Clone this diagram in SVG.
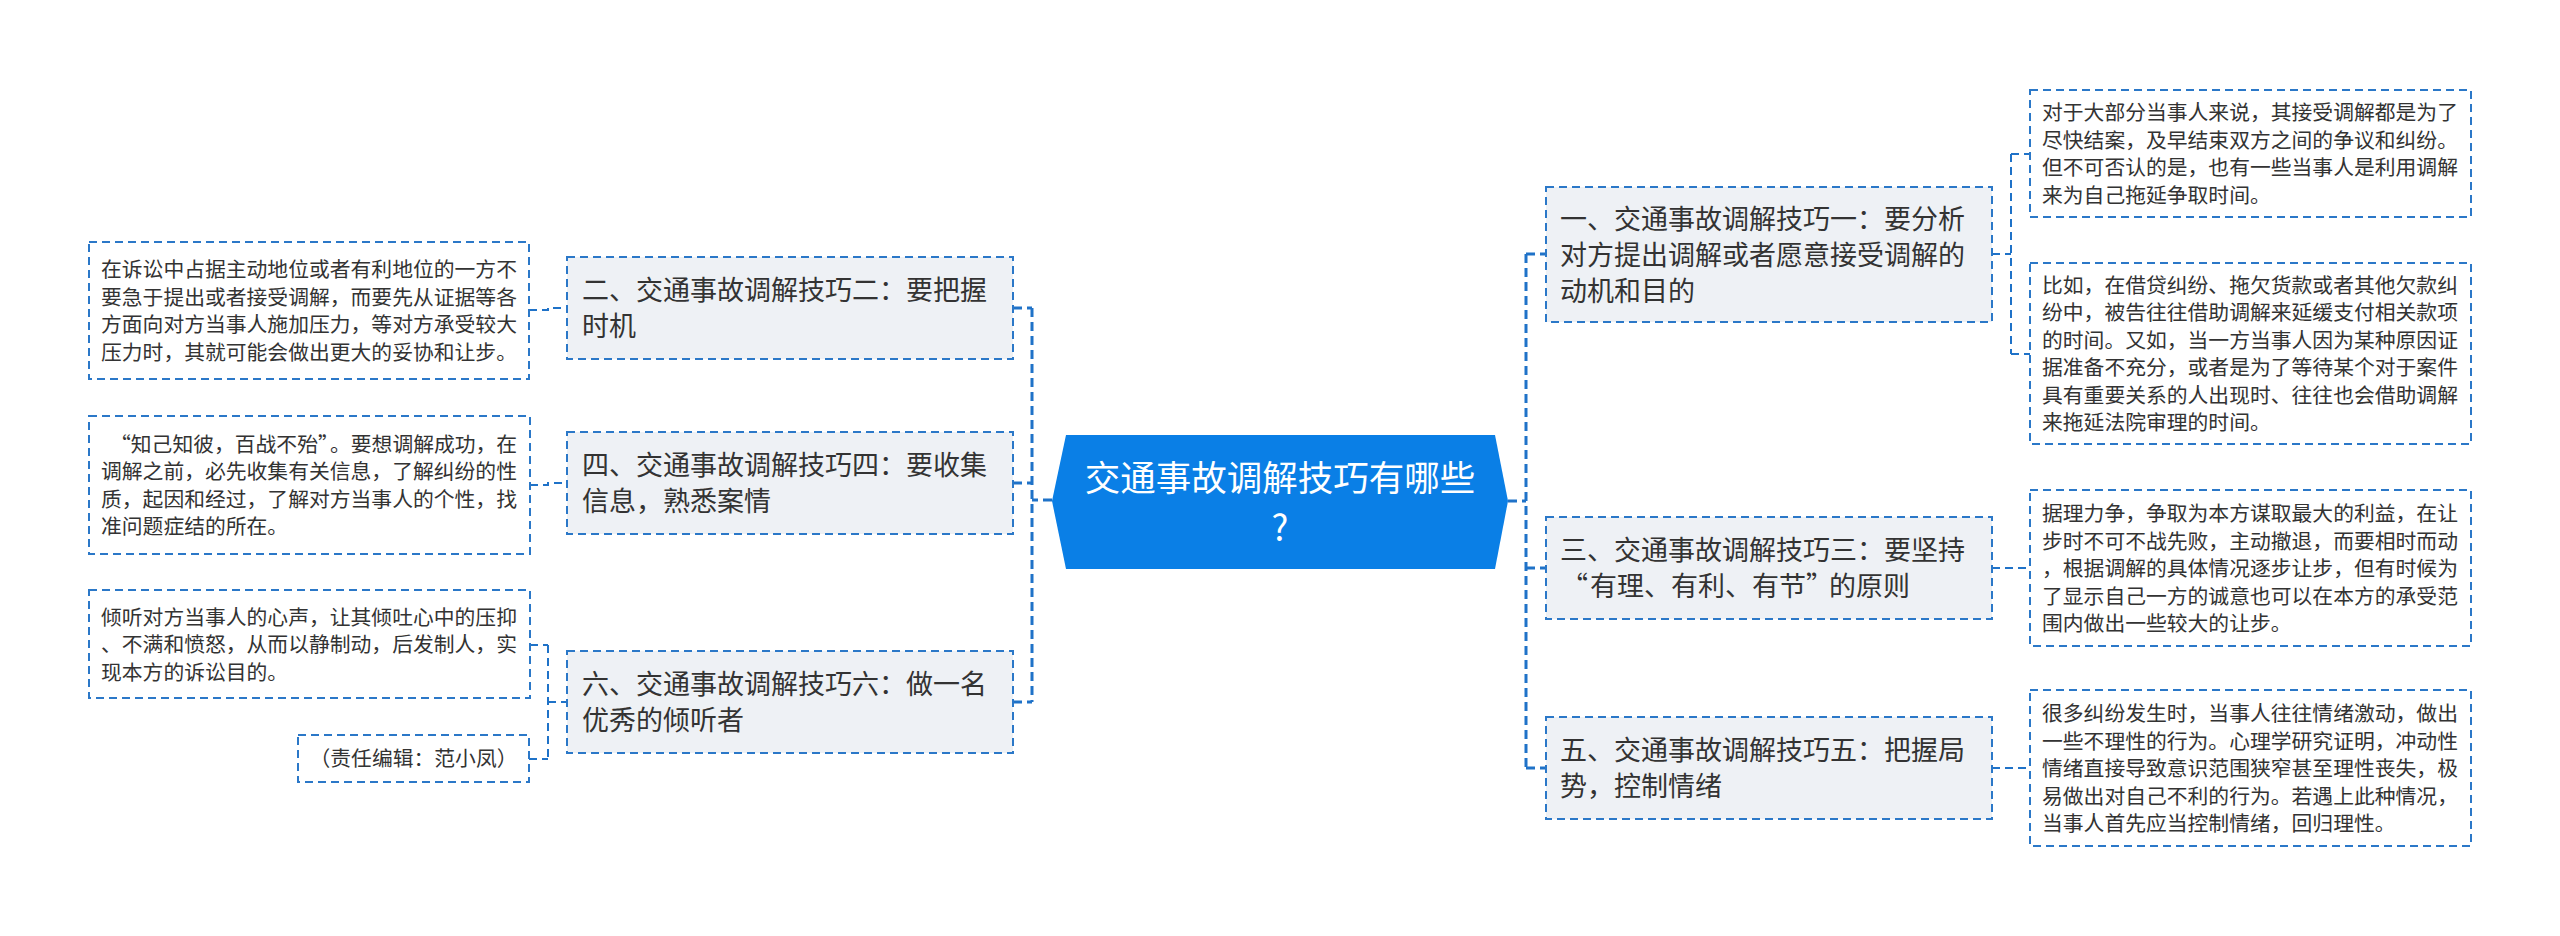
<svg xmlns="http://www.w3.org/2000/svg" width="2560" height="936" viewBox="0 0 2560 936">
<style>
text{font-family:"Noto Sans CJK SC","Noto Sans",sans-serif;fill:#333;}
.main rect{fill:#eef1f5;stroke:#2b78c8;stroke-width:2;stroke-dasharray:8 5;}
.leaf rect{fill:#fff;stroke:#2b78c8;stroke-width:2;stroke-dasharray:8 5;}
.main text{font-size:27px;}
.leaf text{font-size:20.8px;}
.conn path{fill:none;stroke:#1f72c8;stroke-width:2;stroke-dasharray:8 5;}
.conn path.trunk{stroke-width:3;stroke-dasharray:9 5;}
.center text{font-size:35.5px;fill:#fff;text-anchor:middle;}
</style>
<rect width="2560" height="936" fill="#fff"/>
<g id="connectors" class="conn">
<path class="trunk" d="M1052 500H1032M1032 308V702M1013 308H1032M1013 483H1032M1013 702H1032"/>
<path class="trunk" d="M1508 501H1526M1526 254V768M1526 254H1546M1526 568H1546M1526 768H1546"/>
<path d="M529 310H548V308H567"/>
<path d="M530 485H548V483H567"/>
<path d="M548 645V759M530 645H548M529 759H548M548 702H567"/>
<path d="M1992 254H2011M2011 154V354M2011 154H2030M2011 354H2030"/>
<path d="M1992 568H2030"/>
<path d="M1992 768H2030"/>
</g>
<g id="center" class="center">
<polygon points="1066,435 1495,435 1508,501 1495,569 1066,569 1052,501" fill="#0a7fe6"/>
<text x="1280" y="491">交通事故调解技巧有哪些</text>
<text x="1280" y="541">?</text>
</g>
<g id="n1" class="main">
<rect x="1546" y="187" width="446" height="135"/>
<text x="1560" y="229">一、交通事故调解技巧一：要分析</text>
<text x="1560" y="265">对方提出调解或者愿意接受调解的</text>
<text x="1560" y="301">动机和目的</text>
</g>
<g id="n2" class="main">
<rect x="567" y="257" width="446" height="102"/>
<text x="582" y="300">二、交通事故调解技巧二：要把握</text>
<text x="582" y="336">时机</text>
</g>
<g id="n3" class="main">
<rect x="1546" y="517" width="446" height="102"/>
<text x="1560" y="560">三、交通事故调解技巧三：要坚持</text>
<text y="596"><tspan x="1561">“</tspan><tspan x="1590">有理、有利、有节</tspan><tspan x="1806">”</tspan><tspan x="1829">的原则</tspan></text>
</g>
<g id="n4" class="main">
<rect x="567" y="432" width="446" height="102"/>
<text x="582" y="475">四、交通事故调解技巧四：要收集</text>
<text x="582" y="511">信息，熟悉案情</text>
</g>
<g id="n5" class="main">
<rect x="1546" y="717" width="446" height="102"/>
<text x="1560" y="760">五、交通事故调解技巧五：把握局</text>
<text x="1560" y="796">势，控制情绪</text>
</g>
<g id="n6" class="main">
<rect x="567" y="651" width="446" height="102"/>
<text x="582" y="694">六、交通事故调解技巧六：做一名</text>
<text x="582" y="730">优秀的倾听者</text>
</g>
<g id="leafA" class="leaf">
<rect x="89" y="242" width="440" height="137"/>
<text x="101" y="277">在诉讼中占据主动地位或者有利地位的一方不</text>
<text x="101" y="305">要急于提出或者接受调解，而要先从证据等各</text>
<text x="101" y="332">方面向对方当事人施加压力，等对方承受较大</text>
<text x="101" y="360">压力时，其就可能会做出更大的妥协和让步。</text>
</g>
<g id="leafB" class="leaf">
<rect x="89" y="416" width="441" height="138"/>
<text y="452"><tspan x="110">“知己知彼，百战不殆”</tspan><tspan x="330">。要想调解成功，在</tspan></text>
<text x="101" y="479">调解之前，必先收集有关信息，了解纠纷的性</text>
<text x="101" y="507">质，起因和经过，了解对方当事人的个性，找</text>
<text x="101" y="534">准问题症结的所在。</text>
</g>
<g id="leafC" class="leaf">
<rect x="89" y="590" width="441" height="108"/>
<text x="101" y="625">倾听对方当事人的心声，让其倾吐心中的压抑</text>
<text x="101" y="652">、不满和愤怒，从而以静制动，后发制人，实</text>
<text x="101" y="680">现本方的诉讼目的。</text>
</g>
<g id="leafD" class="leaf">
<rect x="298" y="735" width="231" height="47"/>
<text x="413.5" y="766" text-anchor="middle">（责任编辑：范小凤）</text>
</g>
<g id="leafE" class="leaf">
<rect x="2030" y="90" width="441" height="127"/>
<text x="2042" y="120">对于大部分当事人来说，其接受调解都是为了</text>
<text x="2042" y="148">尽快结案，及早结束双方之间的争议和纠纷。</text>
<text x="2042" y="175">但不可否认的是，也有一些当事人是利用调解</text>
<text x="2042" y="203">来为自己拖延争取时间。</text>
</g>
<g id="leafF" class="leaf">
<rect x="2030" y="263" width="441" height="181"/>
<text x="2042" y="293">比如，在借贷纠纷、拖欠货款或者其他欠款纠</text>
<text x="2042" y="320">纷中，被告往往借助调解来延缓支付相关款项</text>
<text x="2042" y="348">的时间。又如，当一方当事人因为某种原因证</text>
<text x="2042" y="375">据准备不充分，或者是为了等待某个对于案件</text>
<text x="2042" y="403">具有重要关系的人出现时、往往也会借助调解</text>
<text x="2042" y="430">来拖延法院审理的时间。</text>
</g>
<g id="leafG" class="leaf">
<rect x="2030" y="490" width="441" height="156"/>
<text x="2042" y="521">据理力争，争取为本方谋取最大的利益，在让</text>
<text x="2042" y="548.5">步时不可不战先败，主动撤退，而要相时而动</text>
<text x="2042" y="576">，根据调解的具体情况逐步让步，但有时候为</text>
<text x="2042" y="603.5">了显示自己一方的诚意也可以在本方的承受范</text>
<text x="2042" y="631">围内做出一些较大的让步。</text>
</g>
<g id="leafH" class="leaf">
<rect x="2030" y="690" width="441" height="156"/>
<text x="2042" y="721">很多纠纷发生时，当事人往往情绪激动，做出</text>
<text x="2042" y="748.5">一些不理性的行为。心理学研究证明，冲动性</text>
<text x="2042" y="776">情绪直接导致意识范围狭窄甚至理性丧失，极</text>
<text x="2042" y="803.5">易做出对自己不利的行为。若遇上此种情况，</text>
<text x="2042" y="831">当事人首先应当控制情绪，回归理性。</text>
</g>
</svg>
